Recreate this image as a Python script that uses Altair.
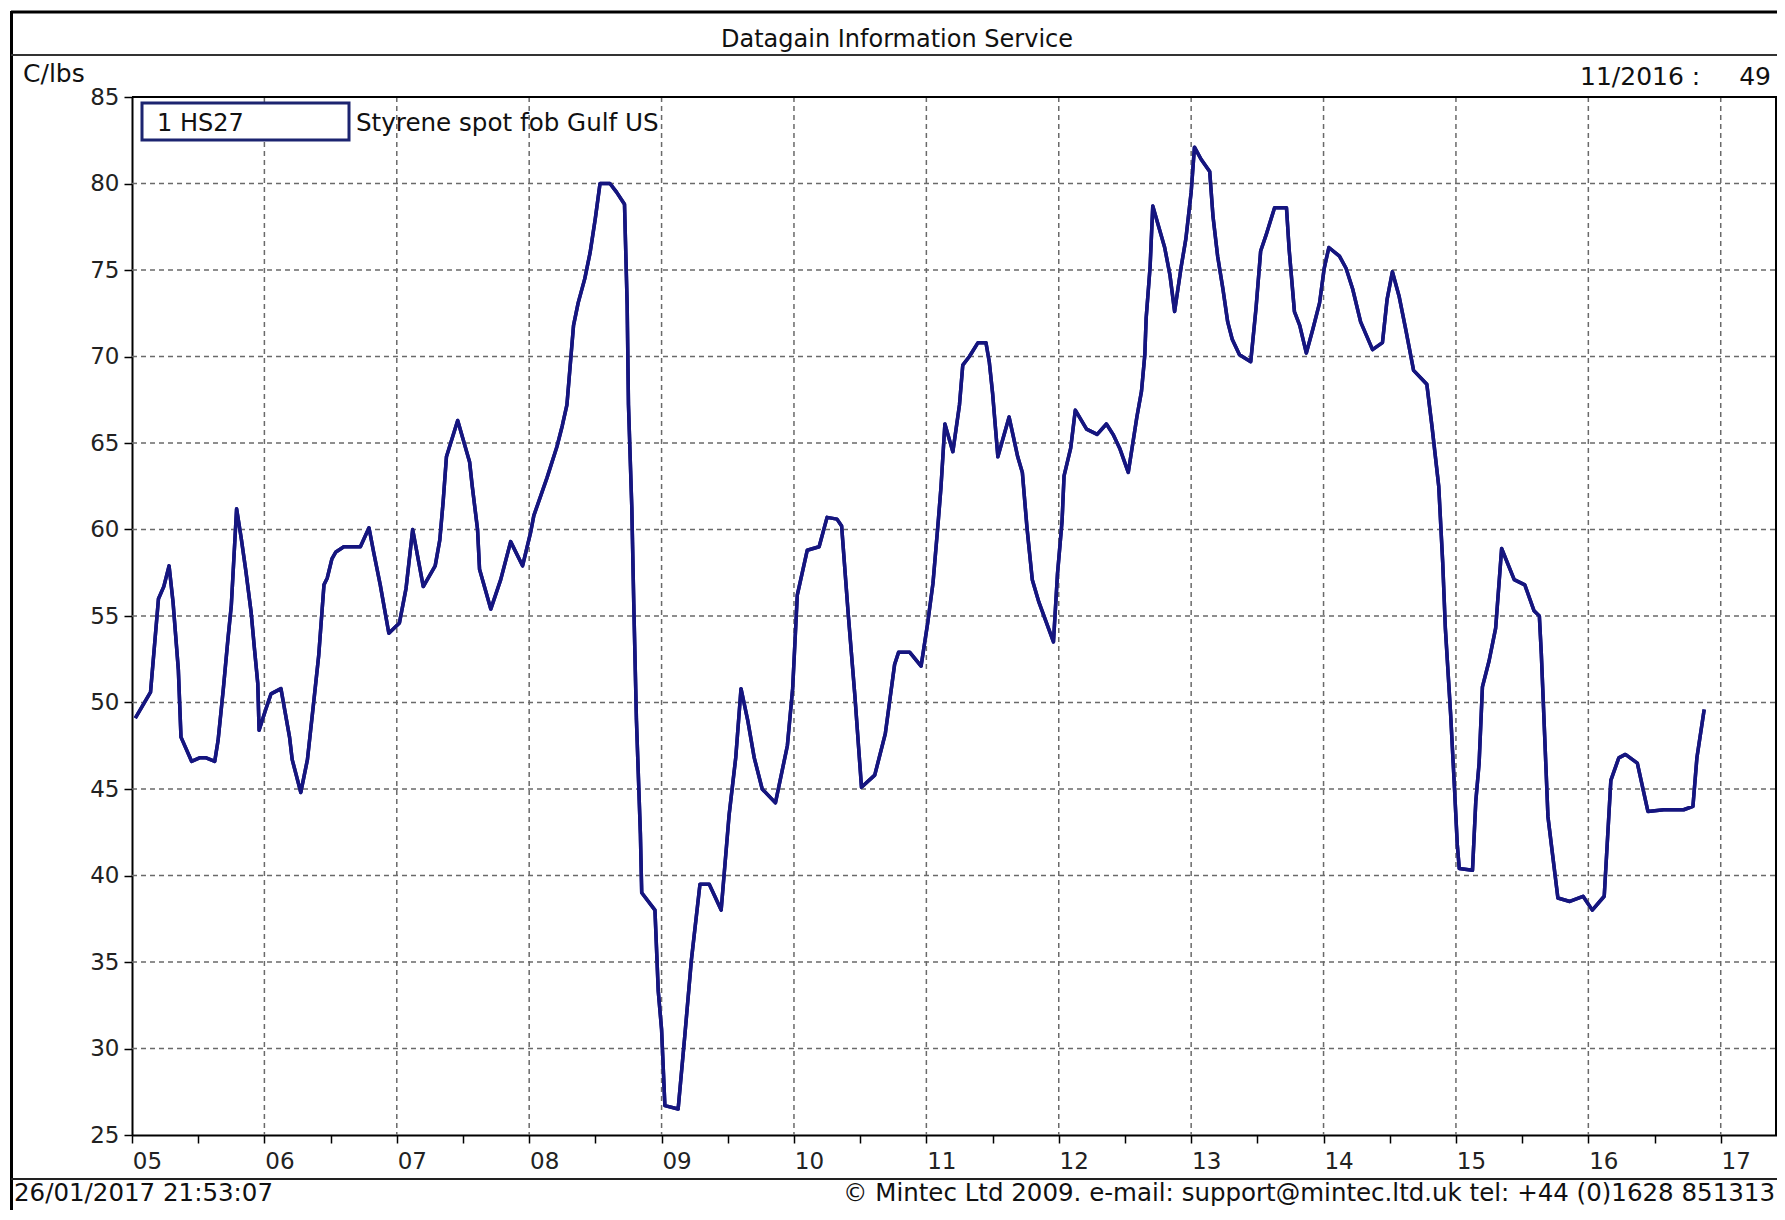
import altair as alt
import pandas as pd

# ---- data (year fraction, C/lbs) ----
years = [
    2005.025, 2005.14, 2005.2, 2005.24, 2005.28, 2005.31, 2005.35, 2005.37, 2005.45, 2005.51,
    2005.56, 2005.625, 2005.65, 2005.69, 2005.725, 2005.75, 2005.79, 2005.825, 2005.86, 2005.9,
    2005.925, 2005.95, 2005.96, 2006.01, 2006.05, 2006.125, 2006.19, 2006.21, 2006.275, 2006.325,
    2006.375, 2006.41, 2006.45, 2006.475, 2006.51, 2006.54, 2006.6, 2006.725, 2006.79, 2006.825,
    2006.875, 2006.94, 2007.02, 2007.07, 2007.12, 2007.2, 2007.29, 2007.325, 2007.35, 2007.375,
    2007.46, 2007.55, 2007.57, 2007.61, 2007.625, 2007.71, 2007.785, 2007.86, 2007.95, 2008.01,
    2008.035, 2008.135, 2008.21, 2008.25, 2008.285, 2008.31, 2008.335, 2008.37, 2008.42, 2008.46,
    2008.5, 2008.535, 2008.61, 2008.66, 2008.72, 2008.74, 2008.75, 2008.775, 2008.79, 2008.81,
    2008.84, 2008.85, 2008.95, 2008.975, 2009.0, 2009.025, 2009.125, 2009.175, 2009.225, 2009.29,
    2009.36, 2009.45, 2009.51, 2009.56, 2009.6, 2009.65, 2009.7, 2009.76, 2009.86, 2009.95,
    2009.99, 2010.025, 2010.1, 2010.19, 2010.25, 2010.325, 2010.36, 2010.41, 2010.46, 2010.51,
    2010.61, 2010.69, 2010.76, 2010.79, 2010.875, 2010.96, 2011.01, 2011.05, 2011.09, 2011.11,
    2011.14, 2011.2, 2011.25, 2011.275, 2011.325, 2011.39, 2011.45, 2011.475, 2011.5, 2011.54,
    2011.625, 2011.69, 2011.725, 2011.76, 2011.8, 2011.85, 2011.96, 2011.99, 2012.025, 2012.04,
    2012.09, 2012.125, 2012.21, 2012.29, 2012.36, 2012.41, 2012.46, 2012.525, 2012.59, 2012.625,
    2012.65, 2012.66, 2012.69, 2012.71, 2012.8, 2012.84, 2012.875, 2012.925, 2012.96, 2013.0,
    2013.025, 2013.075, 2013.14, 2013.165, 2013.2, 2013.24, 2013.276, 2013.31, 2013.365, 2013.45,
    2013.49, 2013.525, 2013.565, 2013.63, 2013.72, 2013.74, 2013.78, 2013.82, 2013.87, 2013.92,
    2013.97, 2014.005, 2014.04, 2014.12, 2014.17, 2014.22, 2014.28, 2014.37, 2014.445, 2014.48,
    2014.52, 2014.57, 2014.62, 2014.68, 2014.78, 2014.82, 2014.87, 2014.9, 2014.92, 2014.96,
    2014.99, 2015.01, 2015.025, 2015.125, 2015.15, 2015.175, 2015.2, 2015.25, 2015.3, 2015.345,
    2015.44, 2015.52, 2015.59, 2015.63, 2015.645, 2015.67, 2015.695, 2015.73, 2015.77, 2015.86,
    2015.96, 2016.03, 2016.12, 2016.17, 2016.23, 2016.28, 2016.37, 2016.45, 2016.57, 2016.72,
    2016.79, 2016.82, 2016.875,
]
values = [
    49.1, 50.6, 56.0, 56.7, 57.9, 55.8, 51.9, 48.0, 46.6, 46.8,
    46.8, 46.6, 47.8, 50.8, 53.7, 55.6, 61.2, 59.5, 57.6, 55.2,
    53.1, 51.1, 48.4, 49.6, 50.5, 50.8, 48.0, 46.7, 44.8, 46.7,
    50.2, 52.7, 56.8, 57.2, 58.3, 58.7, 59.0, 59.0, 60.1, 58.7,
    56.8, 54.0, 54.6, 56.6, 60.0, 56.7, 57.9, 59.4, 61.6, 64.2,
    66.3, 63.9, 62.5, 60.0, 57.7, 55.4, 57.1, 59.3, 57.9, 59.8,
    60.8, 63.0, 64.8, 66.0, 67.2, 69.5, 71.8, 73.1, 74.5, 76.0,
    78.0, 80.0, 80.0, 79.5, 78.8, 73.0, 67.2, 61.3, 55.7, 49.0,
    42.4, 39.0, 38.0, 33.3, 31.1, 26.7, 26.5, 30.7, 35.1, 39.5,
    39.5, 38.0, 43.5, 46.8, 50.8, 49.0, 46.8, 45.0, 44.2, 47.5,
    50.8, 56.2, 58.8, 59.0, 60.7, 60.6, 60.2, 55.1, 50.4, 45.1,
    45.8, 48.2, 52.2, 52.9, 52.9, 52.1, 54.6, 56.9, 60.5, 62.4,
    66.1, 64.5, 67.2, 69.5, 70.0, 70.8, 70.8, 69.7, 67.9, 64.2,
    66.5, 64.2, 63.3, 60.1, 57.1, 55.8, 53.5, 57.4, 60.5, 63.1,
    64.7, 66.9, 65.8, 65.5, 66.1, 65.5, 64.7, 63.3, 66.5, 68.0,
    70.1, 72.2, 75.2, 78.7, 76.3, 74.7, 72.6, 75.2, 76.8, 79.5,
    82.1, 81.4, 80.7, 78.1, 75.8, 73.9, 72.0, 71.0, 70.1, 69.7,
    72.8, 76.1, 77.0, 78.6, 78.6, 76.2, 72.6, 71.8, 70.2, 71.6,
    73.1, 75.1, 76.3, 75.8, 75.1, 73.9, 72.0, 70.4, 70.8, 73.3,
    74.9, 73.5, 71.6, 69.2, 68.4, 65.9, 62.5, 58.1, 54.3, 49.3,
    44.9, 41.8, 40.4, 40.3, 44.3, 46.5, 50.9, 52.4, 54.3, 58.9,
    57.1, 56.8, 55.3, 55.0, 52.8, 48.1, 43.4, 41.2, 38.7, 38.5,
    38.8, 38.0, 38.8, 45.5, 46.8, 47.0, 46.5, 43.7, 43.8, 43.8,
    44.0, 46.8, 49.6,
]

grid_years = list(range(2006, 2018))
grid_values = list(range(30, 85, 5))
x_ticks = [2005 + 0.25 * i for i in range(0, 50)]
y_ticks = list(range(25, 90, 5))

FONT = "DejaVu Sans"
W, H = 1645, 1038
xs = alt.Scale(domain=[2005.0, 2017.425], nice=False, zero=False)
ys = alt.Scale(domain=[25, 85], nice=False, zero=False)

df = pd.DataFrame({"year": years, "value": values})
one = pd.DataFrame({"a": [0]})

line = alt.Chart(df).mark_line(color="#15157f", strokeWidth=3.5, strokeJoin="round").encode(
    x=alt.X("year:Q", scale=xs, title=None, axis=alt.Axis(
        values=x_ticks, grid=False, title=None,
        labelExpr="datum.value % 1 == 0 ? slice(toString(100 + datum.value % 100), 1) : ''",
        labelOffset=15, labelPadding=7, labelOverlap=False, labelBound=False, labelFlush=False,
        labelFont=FONT, labelFontSize=23, labelColor="#222222",
        tickSize=8, tickColor="black", tickWidth=1.5,
        domainColor="black", domainWidth=2)),
    y=alt.Y("value:Q", scale=ys, title=None, axis=alt.Axis(
        values=y_ticks, grid=False, title=None,
        labelPadding=5, labelOverlap=False, labelFont=FONT, labelFontSize=23, labelColor="#222222",
        tickSize=8, tickColor="black", tickWidth=1.5,
        domainColor="black", domainWidth=2)),
)

vgrid = alt.Chart(pd.DataFrame({"g": grid_years})).mark_rule(
    color="#6a6a6a", strokeWidth=1.5, strokeDash=[5, 4]).encode(
    x=alt.X("g:Q", scale=xs, title=None), y=alt.value(0), y2=alt.value(H))
hgrid = alt.Chart(pd.DataFrame({"v": grid_values})).mark_rule(
    color="#6a6a6a", strokeWidth=1.5, strokeDash=[5, 4]).encode(
    y=alt.Y("v:Q", scale=ys, title=None), x=alt.value(0), x2=alt.value(W))


def rule(x, x2, y, y2, color="black", width=2):
    return alt.Chart(one).mark_rule(color=color, strokeWidth=width).encode(
        x=alt.value(x), x2=alt.value(x2), y=alt.value(y), y2=alt.value(y2))


def text(t, x, y, align="left", size=25, color="#111111"):
    return alt.Chart(one).mark_text(text=t, align=align, baseline="middle", font=FONT,
                                    fontSize=size, color=color).encode(
        x=alt.value(x), y=alt.value(y))


frame = [
    rule(0, W, 0, 0),                 # plot top
    rule(W - 1, W - 1, 0, H),         # plot right
    rule(-121, 1650, -85, -85, width=3),   # outer top
    rule(-120.5, -120.5, -86, 1125, width=3),  # outer left
    rule(-121, 1650, -42, -42, color="#333333", width=2),  # under title
    rule(-121, 1650, 1082, 1082, color="#222222", width=2),  # above footer
]

legend_box = alt.Chart(one).mark_rect(fill="white", stroke="#1c2470", strokeWidth=3).encode(
    x=alt.value(10), x2=alt.value(217), y=alt.value(6), y2=alt.value(43))

texts = [
    text("Datagain Information Service", 765, -57, align="center", size=24),
    text("C/lbs", -109, -23),
    text("11/2016 :", 1448, -20),
    text("49", 1639, -20, align="right"),
    text("1 HS27", 25, 27, size=24),
    text("Styrene spot fob Gulf US", 224, 27, size=24.6),
    text("26/01/2017 21:53:07", -118, 1097, size=24.5),
    text("\u00a9 Mintec Ltd 2009. e-mail: support@mintec.ltd.uk tel: +44 (0)1628 851313", 1643, 1097,
         align="right", size=24.5),
]

chart = alt.layer(line, vgrid, hgrid, *frame, legend_box, *texts, line).properties(
    width=W, height=H,
    autosize=alt.AutoSizeParams(type="none"),
    padding={"left": 124, "top": 89, "right": 0, "bottom": 75},
    background="white",
).configure_view(stroke=None)

chart.save("out.html", embed_options={"renderer": "svg", "actions": False})
